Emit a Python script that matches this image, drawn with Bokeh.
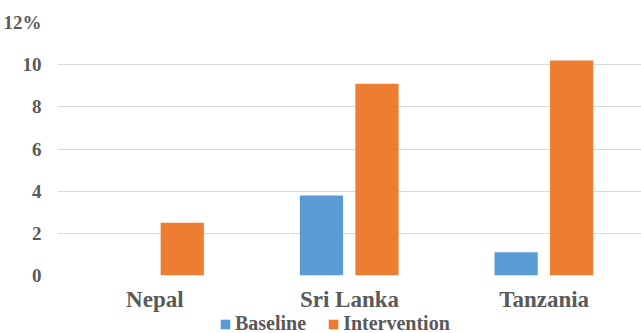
from bokeh.plotting import figure
from bokeh.layouts import column
from bokeh.models import (ColumnDataSource, FactorRange, Range1d, FixedTicker,
                          Legend, LegendItem)
from bokeh.transform import dodge
from bokeh.embed import file_html
from bokeh.resources import INLINE

countries = ["Nepal", "Sri Lanka", "Tanzania"]
baseline = [0.0, 3.8, 1.1]
intervention = [2.5, 9.1, 10.2]
series_names = ["Baseline", "Intervention"]
series_colors = ["#5B9BD5", "#ED7D31"]
y_ticks = [0, 2, 4, 6, 8, 10, 12]
y_tick_labels = ["0", "2", "4", "6", "8", "10", "12%"]

FONT = "Liberation Serif"
GREY = "#595959"

src = ColumnDataSource(dict(country=countries, baseline=baseline, intervention=intervention))

p = figure(width=641, height=314, x_range=FactorRange(*countries, range_padding=0),
           y_range=Range1d(0, 12), output_backend="svg", toolbar_location=None,
           min_border_left=57, min_border_right=0, min_border_top=22, min_border_bottom=39)
p.outline_line_color = None
p.background_fill_color = "white"
p.border_fill_color = "white"

p.vbar(x=dodge("country", -0.144, range=p.x_range), top="baseline", width=0.222,
       source=src, color=series_colors[0], line_color=None)
p.vbar(x=dodge("country", 0.141, range=p.x_range), top="intervention", width=0.222,
       source=src, color=series_colors[1], line_color=None)

p.yaxis.ticker = FixedTicker(ticks=y_ticks)
p.yaxis.major_label_overrides = {t: l for t, l in zip(y_ticks, y_tick_labels)}
p.yaxis.axis_line_color = None
p.yaxis.major_tick_line_color = None
p.yaxis.minor_tick_line_color = None
p.yaxis.major_label_standoff = 10
p.yaxis.major_label_text_font = FONT
p.yaxis.major_label_text_font_style = "bold"
p.yaxis.major_label_text_font_size = "19px"
p.yaxis.major_label_text_color = GREY

p.xaxis.axis_line_color = None
p.xaxis.major_tick_line_color = None
p.xaxis.major_tick_out = 0
p.xaxis.major_label_standoff = 11
p.xaxis.major_label_text_font = FONT
p.xaxis.major_label_text_font_style = "bold"
p.xaxis.major_label_text_font_size = "23px"
p.xaxis.major_label_text_color = GREY

p.xgrid.grid_line_color = None
p.ygrid.grid_line_color = "#d9d9d9"
p.ygrid.grid_line_width = 1

# legend strip (its frame is aligned with the main frame, starting at x=57)
p2 = figure(width=641, height=19, x_range=(0, 1), y_range=(0, 1),
            output_backend="svg", toolbar_location=None, min_border=0,
            min_border_left=57, x_axis_location=None, y_axis_location=None)
p2.outline_line_color = None
p2.xgrid.grid_line_color = None
p2.ygrid.grid_line_color = None
lr = [p2.vbar(x=[5], top=[5], bottom=[4], width=0.1, color=c, line_color=None)
      for c in series_colors]
legend = Legend(items=[LegendItem(label=n, renderers=[r]) for n, r in zip(series_names, lr)],
                orientation="horizontal", location=(162, -2),
                label_text_font=FONT, label_text_font_style="bold",
                label_text_font_size="20px", label_text_color=GREY,
                glyph_width=12, glyph_height=12, label_standoff=4, spacing=21,
                padding=0, margin=0, border_line_color=None, background_fill_alpha=0)
p2.add_layout(legend, "center")

layout = column(p, p2, spacing=0)
open("out.html", "w").write(file_html(layout, INLINE))
